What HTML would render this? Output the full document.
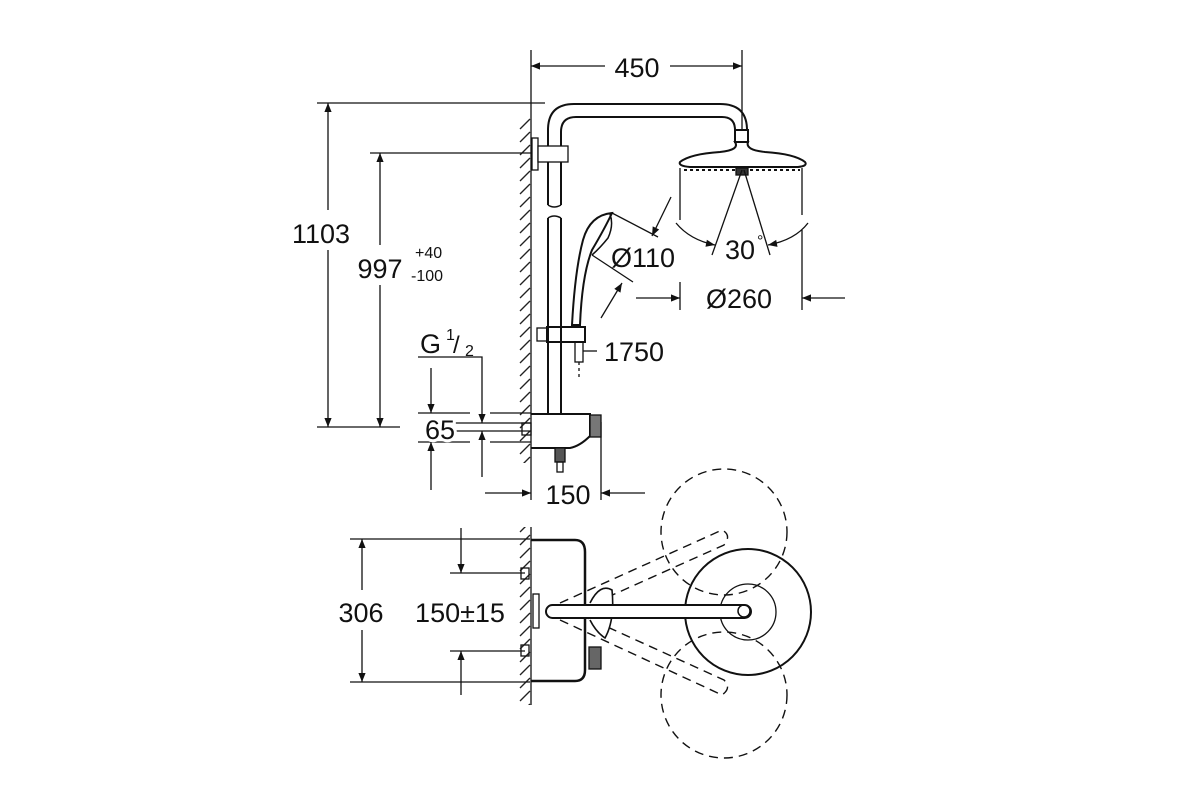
<!DOCTYPE html>
<html><head><meta charset="utf-8"><style>
html,body{margin:0;padding:0;background:#fff}
svg{display:block}
text{font-family:"Liberation Sans",Arial,sans-serif;fill:#111}
</style></head><body>
<svg width="1200" height="800" viewBox="0 0 1200 800" xmlns="http://www.w3.org/2000/svg">
<defs>
<pattern id="h" width="12" height="13" patternUnits="userSpaceOnUse" x="519" y="0">
<line x1="1" y1="12" x2="11" y2="2" stroke="#222" stroke-width="1.3"/>
</pattern>
<marker id="a" viewBox="0 0 10 10" refX="10" refY="5" markerWidth="18" markerHeight="9" markerUnits="userSpaceOnUse" orient="auto-start-reverse">
<path d="M0,1 L10,5 L0,9 z" fill="#111"/>
</marker>
</defs>
<g stroke="#111" stroke-width="1.3" fill="none">
<rect x="519" y="118" width="12" height="345" fill="url(#h)" stroke="none"/>
<line x1="531" y1="50" x2="531" y2="500"/>
<rect x="519" y="527" width="12" height="178" fill="url(#h)" stroke="none"/>
<line x1="531" y1="527" x2="531" y2="705"/>

<line x1="742" y1="50" x2="742" y2="130"/>
<line x1="531" y1="66" x2="605" y2="66" marker-start="url(#a)"/>
<line x1="670" y1="66" x2="742" y2="66" marker-end="url(#a)"/>

<line x1="317" y1="103" x2="545" y2="103"/>
<line x1="370" y1="153" x2="531" y2="153"/>
<line x1="317" y1="427" x2="400" y2="427"/>
<line x1="328" y1="103" x2="328" y2="210" marker-start="url(#a)"/>
<line x1="328" y1="250" x2="328" y2="427" marker-end="url(#a)"/>
<line x1="380" y1="153" x2="380" y2="245" marker-start="url(#a)"/>
<line x1="380" y1="285" x2="380" y2="427" marker-end="url(#a)"/>

<line x1="418" y1="413" x2="470" y2="413"/><line x1="490" y1="413" x2="531" y2="413"/>
<line x1="418" y1="442" x2="470" y2="442"/><line x1="490" y1="442" x2="531" y2="442"/>
<line x1="453" y1="423" x2="531" y2="423"/>
<line x1="453" y1="431" x2="531" y2="431"/>
<line x1="431" y1="368" x2="431" y2="413" marker-end="url(#a)"/>
<line x1="431" y1="490" x2="431" y2="442" marker-end="url(#a)"/>
<polyline points="418,357 482,357 482,423" marker-end="url(#a)"/>
<line x1="482" y1="477" x2="482" y2="431" marker-end="url(#a)"/>

<line x1="601" y1="422" x2="601" y2="500"/>
<line x1="485" y1="493" x2="531" y2="493" marker-end="url(#a)"/>
<line x1="645" y1="493" x2="601" y2="493" marker-end="url(#a)"/>

<path d="M548,205 V130 Q548,104 574,104 H720 Q747,104 747,130" stroke-width="2"/>
<path d="M561,205 V132 Q561,117 576,117 H722 Q735,117 735,130" stroke-width="2"/>
<path d="M548,218 V413 M561,218 V413" stroke-width="2"/>
<path d="M548,205 Q554,209 561,205 M548,218 Q554,214 561,218" stroke-width="1.5"/>
<rect x="532" y="138" width="6" height="32"/>
<rect x="538" y="146" width="30" height="16" fill="#fff"/>
<rect x="735" y="130" width="13" height="12" stroke-width="2"/>
<path d="M735,142 Q740,150 720,152 Q690,154 680,162 Q678,166 690,167 H798 Q808,166 805,162 Q795,154 765,152 Q745,150 748,142 Z" stroke-width="2"/>
<line x1="684" y1="170" x2="800" y2="170" stroke-dasharray="3 3" stroke-width="2"/>
<rect x="736" y="168" width="12" height="7" fill="#333"/>
<line x1="742" y1="170" x2="712" y2="255"/>
<line x1="744" y1="170" x2="770" y2="255"/>
<line x1="680" y1="168" x2="680" y2="220"/>
<line x1="802" y1="168" x2="802" y2="215"/>
<path d="M676,223 Q690,240 715,245" marker-end="url(#a)"/>
<path d="M808,223 Q795,240 768,245" marker-end="url(#a)"/>
<line x1="680" y1="282" x2="680" y2="310"/>
<line x1="802" y1="230" x2="802" y2="310"/>
<line x1="636" y1="298" x2="680" y2="298" marker-end="url(#a)"/>
<line x1="845" y1="298" x2="802" y2="298" marker-end="url(#a)"/>

<path d="M612,213 Q590,215 583,240 Q575,270 572,325 L580,325 Q582,275 592,250 Q605,228 612,213 Z" stroke-width="2"/>
<path d="M610,214 Q614,225 608,238 Q600,248 592,255" stroke-width="1.5"/>
<path d="M612,213 L658,237 M592,255 L633,282" />
<line x1="671" y1="197" x2="652" y2="236" marker-end="url(#a)"/>
<line x1="601" y1="318" x2="622" y2="283" marker-end="url(#a)"/>
<rect x="537" y="328" width="10" height="13"/>
<path d="M547,327 H585 V342 H547 Z" stroke-width="2"/>
<rect x="575" y="342" width="8" height="20"/>
<line x1="579" y1="362" x2="579" y2="378" stroke-dasharray="3 3"/>
<line x1="583" y1="351" x2="597" y2="351"/>

<path d="M531,414 H590 V436 Q580,446 570,448 H531" stroke-width="2"/>
<rect x="590" y="415" width="11" height="22" fill="#777"/>
<rect x="522" y="423" width="9" height="12"/>
<rect x="555" y="448" width="10" height="14" fill="#555"/>
<rect x="557" y="462" width="6" height="10"/>

<line x1="350" y1="539" x2="530" y2="539"/>
<line x1="350" y1="682" x2="530" y2="682"/>
<line x1="362" y1="539" x2="362" y2="590" marker-start="url(#a)"/>
<line x1="362" y1="630" x2="362" y2="682" marker-end="url(#a)"/>
<line x1="450" y1="573" x2="525" y2="573"/>
<line x1="450" y1="651" x2="525" y2="651"/>
<line x1="461" y1="528" x2="461" y2="573" marker-end="url(#a)"/>
<line x1="461" y1="695" x2="461" y2="651" marker-end="url(#a)"/>
<rect x="521" y="568" width="8" height="11"/>
<rect x="521" y="645" width="8" height="11"/>
<path d="M531,540 H575 Q585,540 585,552 V670 Q585,681 575,681 H531" stroke-width="2.5"/>
<rect x="533" y="594" width="6" height="34"/>
<rect x="589" y="647" width="12" height="22" fill="#666"/>
<g stroke-dasharray="9 6" stroke-width="1.4">
<circle cx="724" cy="532" r="63"/>
<circle cx="724" cy="695" r="63"/>
<path d="M560,603 L722,530 Q732,535 724,545 L570,614"/>
<path d="M560,620 L722,695 Q732,688 724,680 L570,610"/>
</g>
<path d="M590,603 Q600,583 612,590 Q615,620 605,638 Q596,632 590,620" stroke-width="1.6" fill="#fff"/>
<circle cx="748" cy="612" r="63" stroke-width="2"/>
<circle cx="748" cy="612" r="28"/>
<rect x="546" y="605" width="205" height="13" rx="6.5" fill="#fff" stroke-width="2"/>
<circle cx="744" cy="611" r="6" stroke-width="1.5"/>
</g>

<g font-size="27">
<text x="637" y="77" text-anchor="middle">450</text>
<text x="321" y="243" text-anchor="middle">1103</text>
<text x="380" y="278" text-anchor="middle" style="paint-order:stroke" stroke="#fff" stroke-width="8">997</text>
<text x="740" y="259" text-anchor="middle">30</text>
<text x="739" y="308" text-anchor="middle">Ø260</text>
<text x="643" y="267" text-anchor="middle">Ø110</text>
<text x="634" y="361" text-anchor="middle">1750</text>
<text x="440" y="439" text-anchor="middle" style="paint-order:stroke" stroke="#fff" stroke-width="6">65</text>
<text x="568" y="504" text-anchor="middle">150</text>
<text x="361" y="622" text-anchor="middle" style="paint-order:stroke" stroke="#fff" stroke-width="8">306</text>
<text x="460" y="622" text-anchor="middle" style="paint-order:stroke" stroke="#fff" stroke-width="6">150±15</text>
<text x="420" y="353">G</text>
</g>
<g font-size="16">
<text x="415" y="258">+40</text>
<text x="411" y="281">-100</text>
<text x="446" y="340">1</text>
<text x="757" y="246">°</text>
</g>
<text x="453" y="353" font-size="24">/</text>
<text x="465" y="356" font-size="16">2</text>
</svg>
</body></html>
